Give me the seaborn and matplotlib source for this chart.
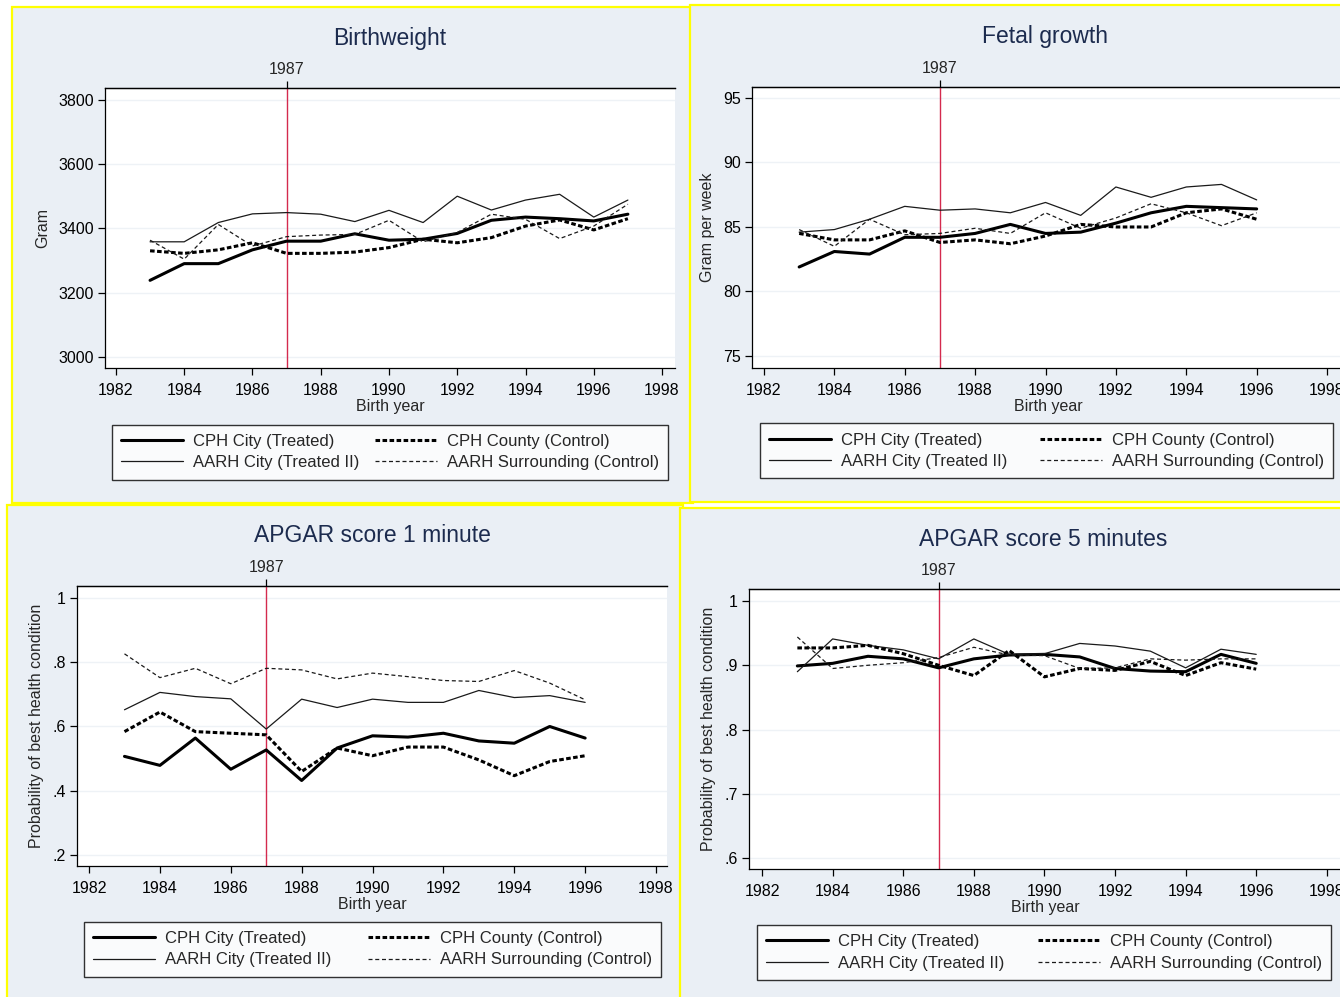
import matplotlib
matplotlib.use("Agg")
import matplotlib.pyplot as plt
from matplotlib.patches import Rectangle
import seaborn as sns
import pandas as pd

# ---------------- data ----------------
years_long = list(range(1983, 1998))   # birthweight series run to 1997
years_short = list(range(1983, 1997))  # the other outcomes run to 1996

series_names = ["CPH City (Treated)", "AARH City (Treated II)",
                "CPH County (Control)", "AARH Surrounding (Control)"]

bw_cph_city = [3238, 3290, 3290, 3333, 3360, 3360, 3383, 3363, 3366, 3384, 3425, 3435, 3430, 3423, 3444]
bw_aarh_city = [3358, 3358, 3418, 3445, 3449, 3444, 3421, 3456, 3418, 3500, 3457, 3488, 3506, 3435, 3488]
bw_cph_county = [3330, 3322, 3333, 3355, 3322, 3322, 3326, 3340, 3366, 3355, 3371, 3407, 3426, 3395, 3430]
bw_aarh_surr = [3363, 3304, 3412, 3345, 3374, 3379, 3381, 3425, 3358, 3387, 3444, 3428, 3368, 3407, 3475]

fg_cph_city = [81.9, 83.1, 82.9, 84.2, 84.2, 84.5, 85.2, 84.5, 84.6, 85.3, 86.1, 86.6, 86.5, 86.4]
fg_aarh_city = [84.6, 84.8, 85.6, 86.6, 86.3, 86.4, 86.1, 86.9, 85.9, 88.1, 87.3, 88.1, 88.3, 87.1]
fg_cph_county = [84.5, 84.0, 84.0, 84.7, 83.8, 84.0, 83.7, 84.3, 85.2, 85.0, 85.0, 86.1, 86.4, 85.6]
fg_aarh_surr = [84.8, 83.5, 85.6, 84.4, 84.5, 84.9, 84.5, 86.1, 84.9, 85.7, 86.8, 86.1, 85.1, 86.1]

a1_cph_city = [0.507, 0.479, 0.564, 0.467, 0.527, 0.432, 0.533, 0.571, 0.567, 0.579, 0.555, 0.548, 0.600, 0.564]
a1_aarh_city = [0.652, 0.706, 0.693, 0.686, 0.592, 0.685, 0.659, 0.685, 0.675, 0.675, 0.712, 0.690, 0.696, 0.675]
a1_cph_county = [0.584, 0.645, 0.584, 0.579, 0.574, 0.460, 0.533, 0.509, 0.536, 0.536, 0.496, 0.447, 0.491, 0.509]
a1_aarh_surr = [0.826, 0.752, 0.781, 0.733, 0.781, 0.776, 0.748, 0.766, 0.755, 0.743, 0.740, 0.774, 0.735, 0.683]

a5_cph_city = [0.899, 0.903, 0.914, 0.910, 0.896, 0.910, 0.916, 0.917, 0.913, 0.895, 0.891, 0.890, 0.917, 0.903]
a5_aarh_city = [0.890, 0.941, 0.931, 0.924, 0.910, 0.941, 0.917, 0.918, 0.934, 0.930, 0.922, 0.896, 0.925, 0.917]
a5_cph_county = [0.927, 0.927, 0.931, 0.918, 0.900, 0.884, 0.923, 0.882, 0.895, 0.892, 0.906, 0.884, 0.904, 0.894]
a5_aarh_surr = [0.944, 0.895, 0.900, 0.904, 0.912, 0.928, 0.916, 0.915, 0.895, 0.896, 0.910, 0.908, 0.910, 0.910]

reform_year = 1987
x_ticks = list(range(1982, 1999, 2))

bw_yticks = [3000, 3200, 3400, 3600, 3800]
bw_ylabels = ["3000", "3200", "3400", "3600", "3800"]
fg_yticks = [75, 80, 85, 90, 95]
fg_ylabels = ["75", "80", "85", "90", "95"]
a1_yticks = [0.2, 0.4, 0.6, 0.8, 1.0]
a1_ylabels = [".2", ".4", ".6", ".8", "1"]
a5_yticks = [0.6, 0.7, 0.8, 0.9, 1.0]
a5_ylabels = [".6", ".7", ".8", ".9", "1"]

titles = ["Birthweight", "Fetal growth", "APGAR score 1 minute", "APGAR score 5 minutes"]
ylabels = ["Gram", "Gram per week",
           "Probability of best health condition", "Probability of best health condition"]

# ---------------- styling ----------------
sns.set_theme(style="white")
plt.rcParams["font.family"] = ["Liberation Sans Narrow", "Liberation Sans", "DejaVu Sans"]

W, H = 1340, 997
BG = "#EAEFF5"
NAVY = "#1C2B4E"
RED = "#D42A4E"
FS = 11.5

line_styles = {
    "CPH City (Treated)": dict(lw=2.2, ls="-", color="black"),
    "AARH City (Treated II)": dict(lw=0.9, ls="-", color="#1a1a1a"),
    "CPH County (Control)": dict(lw=2.2, ls=(0, (1.5, 0.8)), color="black"),
    "AARH Surrounding (Control)": dict(lw=0.9, ls=(0, (3.2, 2.2)), color="#1a1a1a"),
}


def rect(l, t, r, b):
    return [l / W, 1 - b / H, (r - l) / W, (b - t) / H]


fig = plt.figure(figsize=(W / 100, H / 100), dpi=100)
fig.patch.set_facecolor("white")

# panel boxes (l, t, r, b in pixels), axes boxes, limits, text positions
panels = [
    dict(box=(12, 7, 693, 503), ax=(105, 88, 675, 368), xlim=(1981.68, 1998.38), ylim=(2965, 3837),
         years=years_long, data=[bw_cph_city, bw_aarh_city, bw_cph_county, bw_aarh_surr],
         yt=bw_yticks, ytl=bw_ylabels, title_xy=(390, 38), leg=(112, 424, 668, 480)),
    dict(box=(690, 5, 1345, 502), ax=(752, 87, 1345, 368), xlim=(1981.66, 1998.51), ylim=(74.07, 95.85),
         years=years_short, data=[fg_cph_city, fg_aarh_city, fg_cph_county, fg_aarh_surr],
         yt=fg_yticks, ytl=fg_ylabels, title_xy=(1045, 37), leg=(760, 424, 1333, 478)),
    dict(box=(7, 505, 683, 1000), ax=(77, 586, 667, 866), xlim=(1981.66, 1998.31), ylim=(0.166, 1.037),
         years=years_short, data=[a1_cph_city, a1_aarh_city, a1_cph_county, a1_aarh_surr],
         yt=a1_yticks, ytl=a1_ylabels, title_xy=(372, 536), leg=(84, 921, 661, 977)),
    dict(box=(680, 508, 1345, 1000), ax=(749, 589, 1342, 869), xlim=(1981.63, 1998.43), ylim=(0.583, 1.0187),
         years=years_short, data=[a5_cph_city, a5_aarh_city, a5_cph_county, a5_aarh_surr],
         yt=a5_yticks, ytl=a5_ylabels, title_xy=(1043, 539), leg=(757, 925, 1331, 980)),
]

for i, p in enumerate(panels):
    l, t, r, b = p["box"]
    fig.patches.append(Rectangle((l / W, 1 - b / H), (r - l) / W, (b - t) / H,
                                 transform=fig.transFigure, facecolor=BG,
                                 edgecolor="#FFFF00", linewidth=1.6, zorder=-10))

    ax = fig.add_axes(rect(*p["ax"]))
    ax.set_zorder(2)
    ax.set_facecolor("white")

    frames = []
    for name, vals in zip(series_names, p["data"]):
        frames.append(pd.DataFrame({"year": p["years"], "value": vals, "group": name}))
    df = pd.concat(frames, ignore_index=True)

    for name in series_names:
        st = line_styles[name]
        sub = df[df["group"] == name]
        sns.lineplot(data=sub, x="year", y="value", ax=ax, color=st["color"],
                     linewidth=st["lw"], linestyle=st["ls"], label=name, zorder=3)

    ax.axvline(reform_year, color=RED, lw=1.0, zorder=2)

    ax.set_xlim(*p["xlim"])
    ax.set_ylim(*p["ylim"])
    ax.set_xticks(x_ticks)
    ax.set_xticklabels([str(x) for x in x_ticks])
    ax.set_yticks(p["yt"])
    ax.set_yticklabels(p["ytl"])
    for yv in p["yt"]:
        ax.axhline(yv, color="#EEF2F6", lw=1.0, zorder=1)

    ax.tick_params(axis="both", which="major", direction="out", length=5, width=0.9,
                   color="black", labelsize=FS, pad=3, labelcolor="black",
                   bottom=True, left=True)
    ax.tick_params(axis="x", pad=6)
    for s in ["left", "bottom", "top"]:
        ax.spines[s].set_visible(True)
        ax.spines[s].set_color("black")
        ax.spines[s].set_linewidth(0.9)
    ax.spines["right"].set_visible(False)

    ax.set_xlabel("Birth year", fontsize=FS, labelpad=0.5)
    ax.set_ylabel(ylabels[i], fontsize=FS, labelpad=6)

    top = ax.secondary_xaxis("top")
    top.set_xticks([reform_year])
    top.set_xticklabels([str(reform_year)])
    top.tick_params(direction="out", length=5, width=0.9, color="black", labelsize=FS, pad=3)
    top.spines["top"].set_color("black")
    top.spines["top"].set_linewidth(0.9)

    tx, ty = p["title_xy"]
    fig.text(tx / W, 1 - ty / H, titles[i], ha="center", va="center",
             fontsize=16.5, color=NAVY, family=["Liberation Sans", "DejaVu Sans"])

    handles, labs = ax.get_legend_handles_labels()
    ax.get_legend().remove()
    ll, lt, lr, lb = p["leg"]
    leg = fig.legend(handles, labs, ncol=2, loc="center", mode="expand",
                     bbox_to_anchor=(ll / W, 1 - lb / H, (lr - ll) / W, (lb - lt) / H),
                     bbox_transform=fig.transFigure, frameon=True, fancybox=False,
                     fontsize=12, handlelength=3.7, handletextpad=0.6,
                     labelspacing=0.4, borderpad=0.55, borderaxespad=0.0)
    leg.get_frame().set_edgecolor("black")
    leg.get_frame().set_linewidth(1.0)
    leg.get_frame().set_facecolor("white")

fig.savefig("out.png", dpi=100, facecolor=fig.get_facecolor())
